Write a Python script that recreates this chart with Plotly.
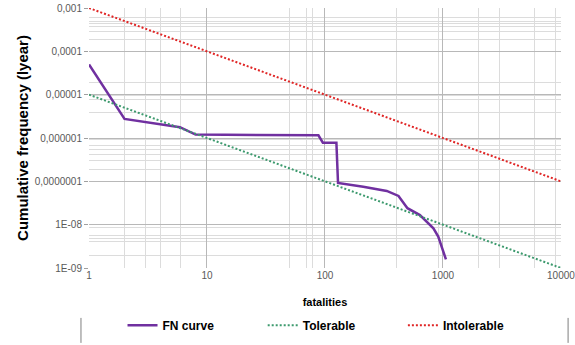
import plotly.graph_objects as go

# ---- data ----
fn_x = [1, 2, 5.9, 8, 88, 96, 125, 129, 211, 334, 420, 500, 638, 830, 912, 1060]
fn_y = [5e-5, 2.75e-6, 1.78e-6, 1.2e-6, 1.15e-6, 7.8e-7, 7.8e-7, 9.2e-8, 7.5e-8,
        6.0e-8, 4.6e-8, 2.4e-8, 1.66e-8, 8.2e-9, 5.3e-9, 1.58e-9]
tol_x = [1, 10000]
tol_y = [1e-5, 1e-9]
intol_x = [1, 10000]
intol_y = [1e-3, 1e-7]

x_tickvals = [1, 10, 100, 1000, 10000]
x_ticktext = ["1", "10", "100", "1000", "10000"]
y_tickvals = [1e-3, 1e-4, 1e-5, 1e-6, 1e-7, 1e-8, 1e-9]
y_ticktext = ["0,001", "0,0001", "0,00001", "0,000001", "0,0000001", "1E-08", "1E-09"]

x_minor_grid = [2, 3, 4, 6, 50, 70, 79, 400, 910, 2000, 3000, 6000, 9000]
y_minor_grid = [5.9e-4, 4.8e-4, 4.4e-4, 3.7e-4, 2.8e-4, 1.9e-4, 1.93e-5, 9.5e-6,
                7.9e-6, 3.8e-6, 9e-7, 6.6e-7, 5.4e-7, 4.1e-7, 3.1e-7, 1.9e-7,
                8.7e-9, 5.6e-9, 4.7e-9, 4e-9, 1.9e-9]

fig = go.Figure()
fig.add_trace(go.Scatter(x=fn_x, y=fn_y, mode="lines", name="<b>FN curve</b>",
                         line=dict(color="#7030a0", width=2.5), legend="legend"))
fig.add_trace(go.Scatter(x=tol_x, y=tol_y, mode="lines", name="<b>Tolerable</b>",
                         line=dict(color="#3d9a6e", width=2, dash="2px,2px"), legend="legend2"))
fig.add_trace(go.Scatter(x=intol_x, y=intol_y, mode="lines", name="<b>Intolerable</b>",
                         line=dict(color="#e02525", width=2, dash="2px,2px"), legend="legend3"))

leg_common = dict(orientation="h", xanchor="left", y=-0.22, yanchor="middle",
                  font=dict(size=12, color="black", family="Liberation Sans, Arial, sans-serif"),
                  bgcolor="rgba(0,0,0,0)")

fig.update_layout(
    width=575, height=345,
    margin=dict(l=89, r=14, t=8, b=77, autoexpand=False),
    paper_bgcolor="white", plot_bgcolor="white",
    font=dict(family="Liberation Sans, Arial, sans-serif", color="#595959", size=10),
    showlegend=True,
    legend=dict(x=0.071, **leg_common),
    legend2=dict(x=0.368, **leg_common),
    legend3=dict(x=0.665, **leg_common),
    shapes=[
        dict(type="line", xref="paper", yref="paper", x0=-0.017, x1=-0.017, y0=-0.192, y1=-0.288,
             line=dict(color="#7f7f7f", width=1)),
        dict(type="line", xref="paper", yref="paper", x0=1.015, x1=1.015, y0=-0.192, y1=-0.288,
             line=dict(color="#7f7f7f", width=1)),
    ],
)

fig.update_xaxes(
    type="log", range=[0, 4.0005], automargin=False,
    tickvals=x_tickvals, ticktext=x_ticktext, ticklabeloverflow="allow",
    showgrid=True, gridcolor="#b8b8b8", gridwidth=1,
    showline=False, zeroline=False, ticks="",
    minor=dict(tickvals=x_minor_grid, showgrid=True, gridcolor="#dcdcdc", gridwidth=1, ticks=""),
    title=dict(text="<b>fatalities</b>", font=dict(size=11, color="black"), standoff=18),
)
fig.update_yaxes(
    type="log", range=[-9, -3], automargin=False,
    tickvals=y_tickvals, ticktext=y_ticktext,
    showgrid=True, gridcolor="#b8b8b8", gridwidth=1,
    showline=False, zeroline=False, ticks="outside", ticklen=4, tickcolor="#a0a0a0",
    minor=dict(tickvals=y_minor_grid, showgrid=True, gridcolor="#dcdcdc", gridwidth=1, ticks=""),
    title=dict(text="<b>Cumulative frequency (lyear)</b>", font=dict(size=15, color="black"), standoff=2),
)

fig.write_html("out.html", config={"displayModeBar": False},
               post_script="document.body.style.margin='0';")
